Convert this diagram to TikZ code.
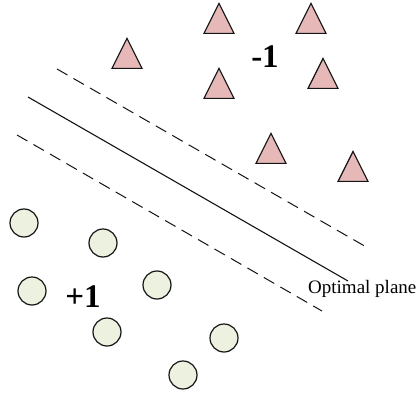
\documentclass[tikz,border=0pt]{standalone}
\usepackage{fontspec}
\setmainfont{Liberation Serif}
\usetikzlibrary{positioning, shapes.geometric}
\definecolor{rosePoint}{RGB}{230,185,184}
\definecolor{mintPoint}{RGB}{236,242,223}
\definecolor{inkLine}{RGB}{20,20,20}

\begin{document}
\begin{tikzpicture}[x=1pt, y=-1pt]
        \useasboundingbox (0,0) rectangle (417,393);
        \tikzset{
          negpt/.style={isosceles triangle, isosceles triangle stretches,
                shape border rotate=90, minimum width=30pt, minimum height=30pt,
                inner sep=0pt, fill=rosePoint, draw=inkLine, line width=1.2pt, anchor=south},
          pospt/.style={circle, fill=mintPoint, draw=inkLine, line width=1.2pt,
                minimum size=28pt, inner sep=0pt},
          margin/.style={inkLine, line width=1pt, dash pattern=on 12pt off 7pt}
        }
        % class -1 (triangles, given by base midpoint)
        \foreach \x/\y [count=\i] in {219/34, 311/34, 127/69, 219/99, 323/89, 271/164, 353/182} {
          \node[negpt] (t\i) at (\x,\y) {};
        }
        % class +1
        \foreach \x/\y [count=\i] in {24/223, 103/243, 32/291, 157/285, 107/332, 224/338, 183/375} {
          \node[pospt] (c\i) at (\x,\y) {};
        }
        \node (neg) at (265,57) {\fontsize{33}{33}\selectfont\bfseries -1};
        \node (pos) at (83,297) {\fontsize{33}{33}\selectfont\bfseries +1};
        % separating plane and margins
        \coordinate (ua) at (57,69);  \coordinate (ub) at (368,248);
        \coordinate (sa) at (28,97);  \coordinate (sb) at (348,281);
        \coordinate (la) at (17,135); \coordinate (lb) at (322,311);
        \draw[margin] (ua) -- (ub);
        \draw[inkLine, line width=1.1pt] (sa) -- (sb);
        \draw[margin] (la) -- (lb);
        \node[anchor=west, inner sep=0pt] (plane) at (308,289) {\fontsize{19}{19}\selectfont Optimal plane};
      \end{tikzpicture}
\end{document}
